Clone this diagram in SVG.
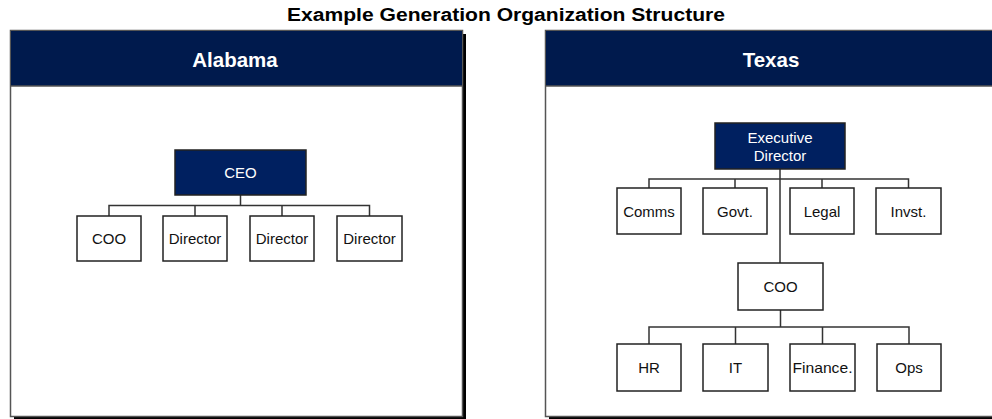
<svg xmlns="http://www.w3.org/2000/svg" width="992" height="419" viewBox="0 0 992 419">
<style>
.title{font-family:"Liberation Sans",Arial,sans-serif;font-weight:bold;font-size:18px;fill:#000}
.hdr{font-family:"Liberation Sans",Arial,sans-serif;font-weight:bold;font-size:20.5px;fill:#fff}
.lbl{font-family:"Liberation Sans",Arial,sans-serif;font-size:15px;fill:#111}
.lblw{font-family:"Liberation Sans",Arial,sans-serif;font-size:15px;fill:#fff}
.panel{fill:#fff;stroke:#555;stroke-width:1.5}
.shadow{fill:#000}
.band{fill:#001a4d}
.box{fill:#fff;stroke:#222;stroke-width:1.5}
.dbox{fill:#002060;stroke:#222;stroke-width:1.5}
.conn{fill:none;stroke:#333;stroke-width:1.5}
</style>
<rect width="992" height="419" fill="#fff"/>
<text class="title" x="506" y="21" text-anchor="middle" textLength="438" lengthAdjust="spacingAndGlyphs">Example Generation Organization Structure</text>

<g id="panel-alabama">
<rect class="shadow" x="14" y="34" width="452" height="390"/>
<rect class="panel" x="10.5" y="30.5" width="452" height="386"/>
<rect class="band" x="11" y="31" width="451" height="55"/>
<line x1="11" y1="86" x2="462" y2="86" stroke="#555" stroke-width="1.5"/>
<text class="hdr" x="235" y="66.5" text-anchor="middle">Alabama</text>
</g>

<g id="panel-texas">
<rect class="shadow" x="549" y="34" width="452" height="390"/>
<rect class="panel" x="545.5" y="30.5" width="452" height="386"/>
<rect class="band" x="546" y="31" width="451" height="55"/>
<line x1="546" y1="86" x2="997" y2="86" stroke="#555" stroke-width="1.5"/>
<text class="hdr" x="771" y="66.5" text-anchor="middle">Texas</text>
</g>

<g id="connectors">
<path class="conn" d="M240.5 195 V205.5 M109 216 V205.5 H369.5 V216 M195 205.5 V216 M282 205.5 V216"/>
<path class="conn" d="M780 169 V263 M649 188 V179 H908.5 V188 M735 179 V188 M822 179 V188"/>
<path class="conn" d="M780.5 310 V327 M649 344 V327 H909 V344 M735.5 327 V344 M822.5 327 V344"/>
</g>

<g id="ceo"><rect class="dbox" x="175" y="150" width="131" height="45"/><text class="lblw" x="240.5" y="178" text-anchor="middle">CEO</text></g>
<g id="al-coo"><rect class="box" x="77" y="216" width="64" height="45"/><text class="lbl" x="109" y="244" text-anchor="middle">COO</text></g>
<g id="al-director-1"><rect class="box" x="163" y="216" width="64" height="45"/><text class="lbl" x="195" y="244" text-anchor="middle">Director</text></g>
<g id="al-director-2"><rect class="box" x="250" y="216" width="64" height="45"/><text class="lbl" x="282" y="244" text-anchor="middle">Director</text></g>
<g id="al-director-3"><rect class="box" x="337" y="216" width="65" height="45"/><text class="lbl" x="369.5" y="244" text-anchor="middle">Director</text></g>

<g id="exec-director"><rect class="dbox" x="715" y="123" width="130" height="46"/><text class="lblw" x="780" y="143" text-anchor="middle">Executive</text><text class="lblw" x="780" y="161" text-anchor="middle">Director</text></g>
<g id="comms"><rect class="box" x="617" y="188" width="64" height="46"/><text class="lbl" x="649" y="216.5" text-anchor="middle">Comms</text></g>
<g id="govt"><rect class="box" x="703" y="188" width="64" height="46"/><text class="lbl" x="735" y="216.5" text-anchor="middle">Govt.</text></g>
<g id="legal"><rect class="box" x="790" y="188" width="64" height="46"/><text class="lbl" x="822" y="216.5" text-anchor="middle">Legal</text></g>
<g id="invst"><rect class="box" x="876" y="188" width="65" height="46"/><text class="lbl" x="908.5" y="216.5" text-anchor="middle">Invst.</text></g>
<g id="tx-coo"><rect class="box" x="738" y="263" width="85" height="47"/><text class="lbl" x="780.5" y="291.5" text-anchor="middle">COO</text></g>
<g id="hr"><rect class="box" x="617" y="344" width="64" height="47"/><text class="lbl" x="649" y="372.5" text-anchor="middle">HR</text></g>
<g id="it"><rect class="box" x="703" y="344" width="65" height="47"/><text class="lbl" x="735.5" y="372.5" text-anchor="middle">IT</text></g>
<g id="finance"><rect class="box" x="790" y="344" width="65" height="47"/><text class="lbl" x="822.5" y="372.5" text-anchor="middle" textLength="60" lengthAdjust="spacingAndGlyphs">Finance.</text></g>
<g id="ops"><rect class="box" x="877" y="344" width="64" height="47"/><text class="lbl" x="909" y="372.5" text-anchor="middle">Ops</text></g>
</svg>
